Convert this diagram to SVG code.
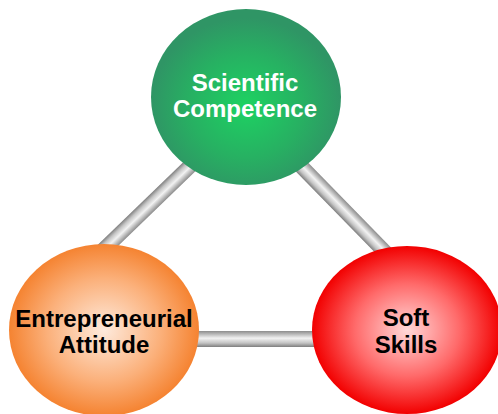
<svg xmlns="http://www.w3.org/2000/svg" width="498" height="414" viewBox="0 0 498 414">
  <defs>
    <linearGradient id="rod" x1="0" y1="0" x2="0" y2="1">
      <stop offset="0" stop-color="#8c8c8c"/>
      <stop offset="0.45" stop-color="#f2f2f2"/>
      <stop offset="0.75" stop-color="#c4c4c4"/>
      <stop offset="1" stop-color="#7e7e7e"/>
    </linearGradient>
    <radialGradient id="gGreen" cx="0.5" cy="0.55" r="0.5">
      <stop offset="0" stop-color="#1dd262"/>
      <stop offset="0.6" stop-color="#27b062"/>
      <stop offset="1" stop-color="#2f9565"/>
    </radialGradient>
    <radialGradient id="gOrange" cx="0.5" cy="0.5" r="0.5">
      <stop offset="0" stop-color="#feeadc"/>
      <stop offset="0.6" stop-color="#fbb07a"/>
      <stop offset="1" stop-color="#f58331"/>
    </radialGradient>
    <radialGradient id="gRed" cx="0.5" cy="0.5" r="0.5">
      <stop offset="0" stop-color="#ffd8d8"/>
      <stop offset="0.55" stop-color="#ff6a6a"/>
      <stop offset="1" stop-color="#f20000"/>
    </radialGradient>
  </defs>
  <style>
    .lbl { font-family: "Liberation Sans", Arial, sans-serif; font-weight: bold; font-size: 24px; text-anchor: middle; }
    .light { fill: #ffffff; }
    .dark { fill: #000000; }
  </style>

  <!-- connecting rods -->
  <g id="connectors">
    <rect transform="translate(188,168) rotate(136)" x="-20" y="-7.5" width="150" height="15" fill="url(#rod)"/>
    <rect transform="translate(300,165) rotate(45.7)" x="-20" y="-7.5" width="150" height="15" fill="url(#rod)"/>
    <rect x="180" y="331" width="150" height="16" fill="url(#rod)"/>
  </g>

  <g id="scientific-competence">
    <ellipse cx="246" cy="97" rx="95" ry="88" fill="url(#gGreen)"/>
    <text class="lbl light" x="245" y="91">Scientific</text>
    <text class="lbl light" x="245" y="117">Competence</text>
  </g>

  <g id="entrepreneurial-attitude">
    <ellipse cx="104" cy="330" rx="95" ry="86" fill="url(#gOrange)"/>
    <text class="lbl dark" x="104" y="327">Entrepreneurial</text>
    <text class="lbl dark" x="104" y="353">Attitude</text>
  </g>

  <g id="soft-skills">
    <ellipse cx="407" cy="330" rx="95" ry="84" fill="url(#gRed)"/>
    <text class="lbl dark" x="406" y="326">Soft</text>
    <text class="lbl dark" x="406" y="353">Skills</text>
  </g>
</svg>
